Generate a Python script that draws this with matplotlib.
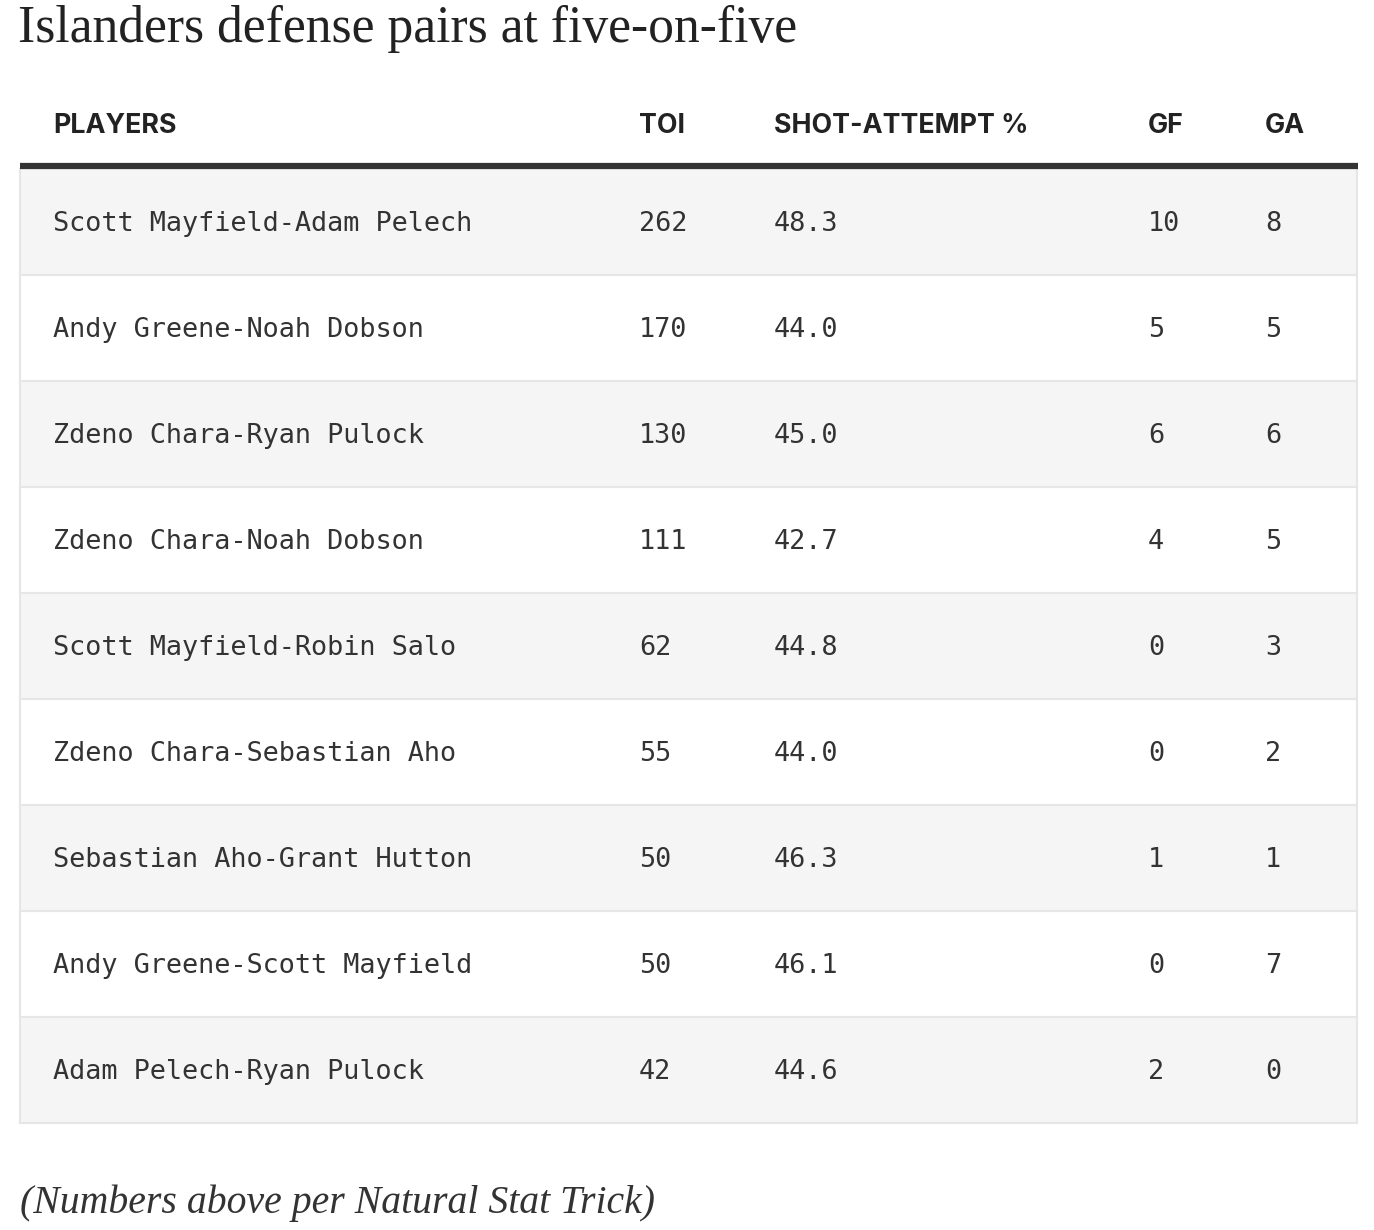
import matplotlib
matplotlib.use("Agg")
import matplotlib.pyplot as plt
from matplotlib.patches import Rectangle

title = "Islanders defense pairs at five-on-five"
footnote = "(Numbers above per Natural Stat Trick)"
columns = ["PLAYERS", "TOI", "SHOT-ATTEMPT %", "GF", "GA"]
players = [
    "Scott Mayfield-Adam Pelech",
    "Andy Greene-Noah Dobson",
    "Zdeno Chara-Ryan Pulock",
    "Zdeno Chara-Noah Dobson",
    "Scott Mayfield-Robin Salo",
    "Zdeno Chara-Sebastian Aho",
    "Sebastian Aho-Grant Hutton",
    "Andy Greene-Scott Mayfield",
    "Adam Pelech-Ryan Pulock",
]
toi = [262, 170, 130, 111, 62, 55, 50, 50, 42]
shot_pct = [48.3, 44.0, 45.0, 42.7, 44.8, 44.0, 46.3, 46.1, 44.6]
gf = [10, 5, 6, 4, 0, 0, 1, 0, 2]
ga = [8, 5, 6, 5, 3, 2, 1, 7, 0]

W, H = 1374, 1230
fig = plt.figure(figsize=(W / 100, H / 100), dpi=100)
ax = fig.add_axes([0, 0, 1, 1])
ax.set_xlim(0, W)
ax.set_ylim(H, 0)
ax.axis("off")

left, right = 20, 1357
col_x = [53, 639, 774, 1148, 1265]
top = 169
row_h = 106

fig.text(18 / W, 1 - 42 / H, title, fontsize=37.2, family="Liberation Serif",
         color="#222222", va="baseline", ha="left")

for x, c in zip(col_x, columns):
    ax.text(x, 126, c, fontsize=19.3, family="Inter", weight="bold",
            color="#222222", va="center", ha="left")

n = len(players)
for i in range(n):
    y0 = top + i * row_h
    face = "#f5f5f5" if i % 2 == 0 else "#ffffff"
    ax.add_patch(Rectangle((left, y0), right - left, row_h, facecolor=face,
                           edgecolor="none", zorder=1))
    ax.plot([left, right], [y0 + row_h, y0 + row_h], color="#e6e6e6", lw=1.5, zorder=2)
    vals = [players[i], str(toi[i]), f"{shot_pct[i]:.1f}", str(gf[i]), str(ga[i])]
    for x, v in zip(col_x, vals):
        ax.text(x, y0 + row_h / 2 + 2, v, fontsize=19.4, family="DejaVu Sans Mono",
                color="#333333", va="center", ha="left", zorder=3)

ax.plot([left, left], [top, top + n * row_h], color="#e6e6e6", lw=1.5, zorder=2)
ax.plot([right, right], [top, top + n * row_h], color="#e6e6e6", lw=1.5, zorder=2)
ax.plot([left, right + 1], [166, 166], color="#333333", lw=4.5, zorder=4,
        solid_capstyle="butt")

fig.text(20 / W, 1 - 1213 / H, footnote, fontsize=28.6, family="Liberation Serif",
         style="italic", color="#333333", va="baseline", ha="left")

fig.savefig("out.png", dpi=100, facecolor="white")
